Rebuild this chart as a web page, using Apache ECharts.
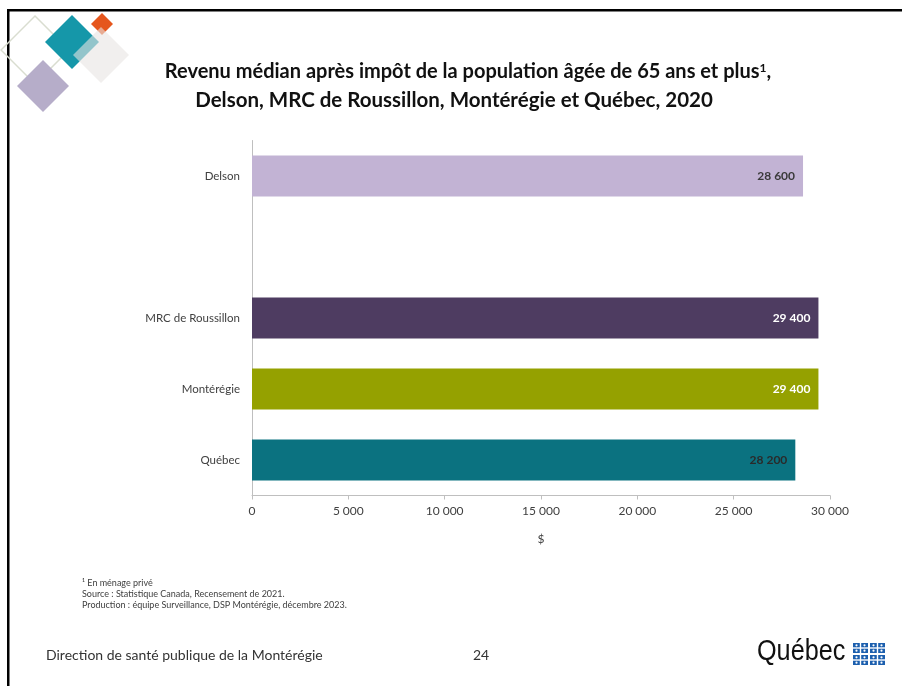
<!DOCTYPE html>
<html><head><meta charset="utf-8">
<script src="https://cdn.jsdelivr.net/npm/echarts@6/dist/echarts.min.js"></script>
<style>html,body{margin:0;padding:0;background:#fff}#c{width:902px;height:686px}</style>
</head><body><div id="c"></div>
<script>
const categories = ['Delson', '', 'MRC de Roussillon', 'Montérégie', 'Québec'];
const values = [28600, null, 29400, 29400, 28200];
const barColors = ['#c2b3d4', '#ffffff', '#4e3c61', '#95a100', '#0b7280'];
const labelColors = ['#3a3a3a', '#3a3a3a', '#ffffff', '#ffffff', '#2a2a2a'];
const xTicks = [0, 5000, 10000, 15000, 20000, 25000, 30000];
const titleLine1 = 'Revenu médian après impôt de la population âgée de 65 ans et plus';
const titleLine2 = 'Delson, MRC de Roussillon, Montérégie et Québec, 2020';
const notes = ['¹ En ménage privé', 'Source : Statistique Canada, Recensement de 2021.', 'Production : équipe Surveillance, DSP Montérégie, décembre 2023.'];
const footerLeft = 'Direction de santé publique de la Montérégie';
const pageNum = '24';

const fmt = v => String(v).replace(/\B(?=(\d{3})+(?!\d))/g, '\u202f');
const FONT = 'Lato, "Noto Sans", sans-serif';

function diamond(cx, cy, r) {
  return [[cx, cy - r], [cx + r, cy], [cx, cy + r], [cx - r, cy]];
}
function flag(x, y) {
  return [
    {type:'rect', shape:{x:x, y:y, width:15, height:10}, style:{fill:'#1c5fae'}},
    {type:'rect', shape:{x:x+6.8, y:y, width:1.4, height:10}, style:{fill:'#fff'}},
    {type:'rect', shape:{x:x, y:y+4.3, width:15, height:1.4}, style:{fill:'#fff'}},
    {type:'circle', shape:{cx:x+3.5, cy:y+2.3, r:1.1}, style:{fill:'#fff'}},
    {type:'circle', shape:{cx:x+11.5, cy:y+2.3, r:1.1}, style:{fill:'#fff'}},
    {type:'circle', shape:{cx:x+3.5, cy:y+7.7, r:1.1}, style:{fill:'#fff'}},
    {type:'circle', shape:{cx:x+11.5, cy:y+7.7, r:1.1}, style:{fill:'#fff'}}
  ];
}

const chart = echarts.init(document.getElementById('c'), null, {renderer:'canvas'});
chart.setOption({
  animation: false,
  backgroundColor: '#ffffff',
  grid: {left: 252, right: 72, top: 140.5, bottom: 190.5, containLabel: false},
  xAxis: {
    type: 'value', min: 0, max: 30000, interval: 5000,
    name: '$', nameLocation: 'middle', nameGap: 38,
    nameTextStyle: {color: '#404040', fontSize: 12, fontFamily: FONT},
    axisLine: {show: true, lineStyle: {color: '#bfbfbf', width: 1}},
    axisTick: {show: true, length: 4, lineStyle: {color: '#bfbfbf'}},
    splitLine: {show: false},
    axisLabel: {color: '#404040', fontSize: 12, fontFamily: FONT, margin: 10, formatter: v => fmt(v)}
  },
  yAxis: {
    type: 'category', data: categories, inverse: true,
    axisLine: {show: true, lineStyle: {color: '#bfbfbf', width: 1}},
    axisTick: {show: false},
    axisLabel: {color: '#404040', fontSize: 11.5, fontFamily: FONT, margin: 12}
  },
  series: [{
    type: 'bar', barWidth: 41,
    data: values.map((v, i) => ({
      value: v,
      itemStyle: {color: barColors[i]},
      label: {color: labelColors[i]}
    })),
    label: {show: true, position: 'insideRight', distance: 8, fontWeight: 'bold', fontSize: 12, fontFamily: FONT,
      formatter: p => p.value == null ? '' : fmt(p.value)}
  }],
  graphic: [
    // frame
    {type:'rect', shape:{x:7, y:9, width:895, height:2.5}, style:{fill:'#000'}},
    {type:'rect', shape:{x:7, y:9, width:2.5, height:677}, style:{fill:'#000'}},
    // logo
    {type:'polygon', shape:{points: diamond(35, 50, 34)}, style:{fill:'none', stroke:'#d9ddd0', lineWidth:1.5}},
    {type:'polygon', shape:{points: diamond(43, 86, 26)}, style:{fill:'#b6adc9'}},
    {type:'polygon', shape:{points: diamond(72, 42, 27)}, style:{fill:'#1597a9'}},
    {type:'polygon', shape:{points: diamond(102, 24, 11)}, style:{fill:'#e5561d'}},
    {type:'polygon', shape:{points: diamond(101, 55, 28)}, style:{fill:'rgba(232,228,226,0.6)'}},
    // title
    {type:'text', x: 468, y: 62, style:{
      text: '{t|' + titleLine1 + '}{s|1}{t|,}', align:'center',
      rich:{t:{fontSize:20, fontWeight:'bold', fontFamily:FONT, fill:'#111'}, s:{fontSize:12, fontWeight:'bold', fontFamily:FONT, fill:'#111', verticalAlign:'top', padding:[0,0,8,0]}}
    }},
    {type:'text', x: 454, y: 90, style:{text: titleLine2, align:'center', fontSize:20.5, fontWeight:'bold', fontFamily:FONT, fill:'#111'}},
    // notes
    {type:'text', x: 82, y: 578, style:{text: notes.join('\n'), fontSize: 9, lineHeight: 11, fontFamily: FONT, fill:'#404040'}},
    // footer
    {type:'text', x: 46, y: 648, style:{text: footerLeft, fontSize: 14, fontFamily: FONT, fill:'#333'}},
    {type:'text', x: 473, y: 648, style:{text: pageNum, fontSize: 14, fontFamily: FONT, fill:'#333'}},
    {type:'text', x: 757, y: 637, scaleX: 0.87, style:{text: 'Québec', fontSize: 29, fontFamily: '"Liberation Sans", sans-serif', fill:'#111'}},
  ].concat(flag(853, 643), flag(870, 643), flag(853, 655), flag(870, 655))
});
</script></body></html>
